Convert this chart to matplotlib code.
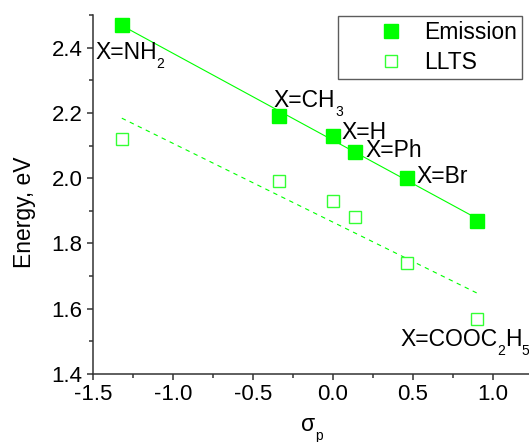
import numpy as np
import matplotlib
matplotlib.use('Agg')
import matplotlib.pyplot as plt
from matplotlib.ticker import MultipleLocator
from matplotlib.transforms import ScaledTranslation

plt.rcParams['font.family'] = ['Liberation Sans', 'DejaVu Sans']
plt.rcParams['axes.unicode_minus'] = False

# substituent constants and energies (eV)
sigma_p = [-1.32, -0.34, 0.0, 0.14, 0.46, 0.90]
emission = [2.47, 2.19, 2.13, 2.08, 2.00, 1.87]
llts = [2.12, 1.99, 1.93, 1.88, 1.74, 1.57]

# label pieces: (text, is_subscript)
labels = [
   [('X=NH', False), ('2', True)],
   [('X=CH', False), ('3', True)],
   [('X=H', False)],
   [('X=Ph', False)],
   [('X=Br', False)],
   [('X=COOC', False), ('2', True), ('H', False), ('5', True)],
]
label_x = [-1.4875, -0.37, 0.05, 0.20, 0.52, 0.42]
label_y = [2.366, 2.219, 2.121, 2.066, 1.986, 1.486]

green = '#00ff00'
FS = 16.5
SUB_FS = 10
SUB_DROP = 6.5  # points

fig = plt.figure(figsize=(5.29, 4.42), dpi=100)
ax = fig.add_axes([93/529, 68/442, 480/529, 359/442])
renderer = fig.canvas.get_renderer()


def piece_text(x, y, parts, transform):
   # draw text with real subscripts, piece by piece
   offset = 0.0
   for s, sub in parts:
      tr = transform + ScaledTranslation(offset/72, (-SUB_DROP if sub else 0)/72,
                                         fig.dpi_scale_trans)
      t = ax.text(x, y, s, transform=tr, fontsize=SUB_FS if sub else FS,
                  ha='left', va='baseline', clip_on=False, zorder=4)
      offset += t.get_window_extent(renderer).width * 72 / fig.dpi


ax.plot(sigma_p, emission, 's', color=green, markersize=9.5, label='Emission', zorder=3)
ax.plot(sigma_p, llts, 's', markerfacecolor='white', markeredgecolor='#33ff33',
        markeredgewidth=1.0, markersize=8.5, label='LLTS', zorder=3)

# linear fits
xs = np.array([min(sigma_p), max(sigma_p)])
k1, b1 = np.polyfit(sigma_p, emission, 1)
k2, b2 = np.polyfit(sigma_p, llts, 1)
ax.plot(xs, k1*xs + b1, '-', color=green, lw=0.8)
ax.plot(xs, k2*xs + b2, '--', color=green, lw=0.8, dashes=(4, 4))

for parts, x, y in zip(labels, label_x, label_y):
   piece_text(x, y, parts, ax.transData)

ax.set_xlim(-1.5, 1.5)
ax.set_ylim(1.4, 2.5)
ax.xaxis.set_minor_locator(MultipleLocator(0.25))
ax.yaxis.set_minor_locator(MultipleLocator(0.1))
ax.set_yticks([1.4, 1.6, 1.8, 2.0, 2.2, 2.4])
ax.set_xticks([-1.5, -1.0, -0.5, 0.0, 0.5, 1.0])

# remove frames not shown
ax.spines['top'].set_visible(False)
ax.spines['right'].set_visible(False)
for s in ['left', 'bottom']:
   ax.spines[s].set_color('#333333')
   ax.spines[s].set_linewidth(1.1)

ax.tick_params(which='major', direction='out', length=4.5, width=1.1, color='#333333',
               labelsize=16, pad=3)
ax.tick_params(which='minor', direction='out', length=3, width=1.1, color='#333333')

ax.set_ylabel('Energy, eV', fontsize=FS)
ax.yaxis.set_label_coords(-0.119, 0.451)

# x label: sigma with subscript p
piece_text(0.433, -0.159, [('σ', False), ('p', True)], ax.transAxes)

leg = ax.legend(loc='upper left', bbox_to_anchor=(338/529, 1 - 16/442),
                bbox_transform=fig.transFigure, fontsize=FS, numpoints=1,
                handlelength=4.2, handletextpad=-0.67, borderpad=0.22,
                labelspacing=0.3, borderaxespad=0, fancybox=False)
leg.get_frame().set_edgecolor('#333333')
leg.get_frame().set_linewidth(1.0)

plt.savefig('out.png', dpi=100)
